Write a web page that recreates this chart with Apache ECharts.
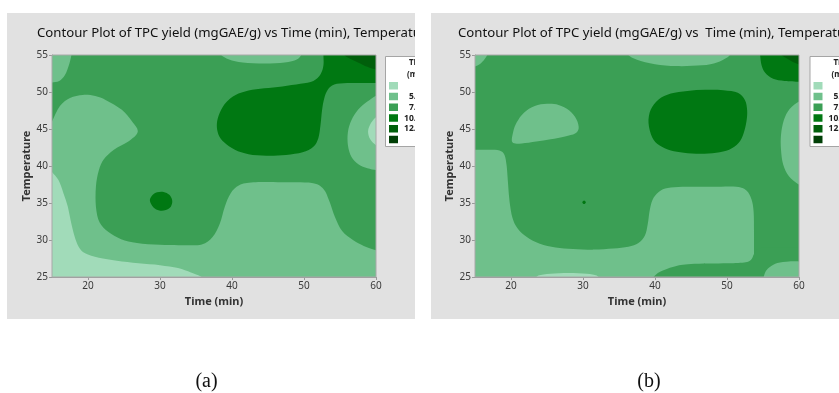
<!DOCTYPE html>
<html>
<head>
<meta charset="utf-8">
<script src="https://cdn.jsdelivr.net/npm/echarts@6/dist/echarts.min.js"></script>
<style>
  html, body { margin: 0; padding: 0; background: #ffffff; }
  #chart { width: 839px; height: 393px; }
</style>
</head>
<body>
<div id="chart"></div>
<script>
// ---- axes ----
const timeTicks = [20, 30, 40, 50, 60];
const tempTicks = [25, 30, 35, 40, 45, 50, 55];

// ---- TPC yield bands (mgGAE/g) ----
const bandColors = ['#a1dbb9', '#6fc08b', '#3b9f55', '#007812', '#005f0b', '#003f06'];
const bandLower = ['<', '5.0', '7.5', '10.0', '12.5', '>'];
const bandUpper = ['5.0', '– 7.5', '– 10.0', '– 12.5', '– 15.0', '15.0'];

const panelTitles = [
  'Contour Plot of TPC yield (mgGAE/g) vs Time (min), Temperature',
  'Contour Plot of TPC yield (mgGAE/g) vs  Time (min), Temperature'
];
const panelCaptions = ['(a)', '(b)'];

// ---- contour boundaries, panel (a): [time, temperature] ----
const aFrame = [[15, 25], [60, 25], [60, 55], [15, 55]];
const aLowBand = [[14.5,45.0],[15,46],[16.1,48.1],[17.5,49.2],[19.3,49.6],[21,49.45],[22.5,48.9],[24.7,47.6],[26.2,45.9],[26.9,44.6],[25.6,43.3],[23.6,42.2],[22.2,40.9],[21.5,39.4],[21.1,37.2],[21.1,34.5],[21.6,32.4],[22.8,31.1],[24.6,30.1],[26.8,29.6],[30,29.35],[33.2,29.3],[35.8,29.4],[37.3,30.4],[38.3,32.2],[39,34.5],[39.8,36.3],[41,37.4],[43,37.8],[47,37.8],[51.1,37.7],[52.7,36.9],[53.5,35.3],[54.3,33.1],[55.3,31.2],[56.8,30.0],[58.3,29.2],[60,28.6],[60.6,28.4]];
const aLowBandEdge = [[60.6,24],[14.5,24]];
const aCornerLow = [[14.5,39.8],[15,39.2],[15.9,38.1],[16.6,36.3],[17.2,34.5],[17.6,32.6],[18.1,30.6],[18.7,29.1],[19.6,28.2],[21.5,27.6],[24,27.2],[27,26.85],[30,26.6],[32.5,26.2],[34.3,25.6],[35.6,25.1],[36.3,24.6],[36.6,24.2]];
const aCornerLowEdge = [[14.5,24.2]];
const aTopLeft = [[14.5,51.2],[15,51.3],[16,51.5],[16.8,52.3],[17.4,53.8],[17.7,55],[17.75,55.5]];
const aTopLeftEdge = [[14.5,55.5]];
const aTopMid = [[38.3,55.6],[38.5,55],[39.6,54.4],[41.5,54.0],[44.5,53.85],[47.3,54.0],[49,54.4],[49.6,55],[49.75,55.6]];
const aRightMid = [[60.6,49.6],[60,49.5],[58.8,48.7],[57.5,47.6],[56.6,46.2],[56.1,44.6],[56.1,42.8],[56.6,41.2],[57.6,40.2],[58.8,39.7],[60,39.45],[60.6,39.4]];
const aRightCore = [[60.6,46.8],[60,46.6],[59.3,45.8],[58.9,44.7],[59.2,43.6],[60,42.8],[60.6,42.6]];
const aPeak = [[52.7,55.6],[52.7,55],[52.7,53.6],[52.3,52.4],[51.3,51.5],[49.5,51.1],[47,50.75],[44.5,50.5],[42.3,50.2],[40.5,49.6],[39.2,48.6],[38.3,47.2],[37.9,45.7],[38.1,44.3],[38.9,43.2],[40.4,42.2],[42.3,41.6],[44.8,41.4],[47.5,41.5],[49.8,41.85],[51.3,42.6],[52,43.8],[52.3,45.6],[52.5,47.5],[52.8,49.1],[53.3,50.3],[54.2,51.0],[56,51.2],[58.5,51.2],[60,51.2],[60.6,51.2]];
const aPeakEdge = [[60.6,55.6]];
const aPeakCorner = [[55.5,55.6],[55.6,55],[56.4,54.5],[57.5,54.0],[58.8,53.4],[60,53.0],[60.6,52.8]];
const aPeakCornerEdge = [[60.6,55.6]];
const aSpot = [[28.6,35.3],[28.9,36.0],[29.6,36.45],[30.5,36.5],[31.3,36.1],[31.7,35.3],[31.5,34.5],[30.8,34.05],[29.9,34.0],[29.1,34.4]];

// ---- contour boundaries, panel (b) ----
const bFrame = [[15, 25], [60, 25], [60, 55], [15, 55]];
const bLeftBand = [[14.5,42.2],[15,42.2],[17,42.2],[18.4,42.1],[19.1,41.5],[19.4,40.0],[19.6,37.5],[19.8,35.2],[20.2,33.0],[20.9,31.6],[22.2,30.4],[24.0,29.5],[26.2,29.0],[28.6,28.8],[31.5,28.7],[34.2,28.85],[36.3,29.1],[37.7,29.6],[38.6,30.6],[39.0,32.2],[39.3,34.2],[39.8,35.7],[40.8,36.7],[42.2,37.1],[44.5,37.2],[48,37.2],[51.3,37.2],[52.7,36.7],[53.4,35.5],[53.7,33.8],[53.75,31],[53.75,28.5],[53.75,26],[53.75,24.4]];
const bLeftBandEdge = [[14.5,24.4]];
const bSliver = [[23.3,24.6],[23.8,25.2],[25.5,25.45],[28,25.55],[30.5,25.45],[31.9,25.2],[32.4,24.6]];
const bFloor = [[39.4,24.5],[39.8,25],[40.7,25.7],[42.6,26.4],[45,26.75],[50,26.85],[52.6,27.0],[53.4,27.4],[53.75,28.1],[54.3,28.8],[55,29]];
const bFloorEdge = [[60.6,29],[60.6,24.5]];
const bFloorCorner = [[55.0,24.5],[55.1,25],[55.4,25.8],[56,26.4],[57,26.9],[58.6,27.1],[60,27.1],[60.6,27.1]];
const bFloorCornerEdge = [[60.6,24.5]];
const bTopLeft = [[14.5,53.3],[15,53.45],[15.7,53.8],[16.3,54.4],[16.7,55],[16.85,55.6]];
const bTopLeftEdge = [[14.5,55.6]];
const bDome = [[20.2,43.2],[20.3,44.6],[20.8,45.9],[21.8,47.2],[23.3,48.1],[25,48.4],[26.6,48.25],[28.1,47.5],[29.1,46.3],[29.4,45.1],[28.9,44.4],[27.5,44.0],[25.5,43.6],[23.5,43.3],[21.5,43.05]];
const bTopMid = [[36,55.6],[36.3,55],[37.5,54.35],[40,53.75],[43,53.5],[46.5,53.6],[48.6,54.0],[49.9,54.6],[50.4,55],[50.6,55.6]];
const bRightMid = [[60.6,48.9],[60,48.7],[58.7,47.7],[57.9,46.2],[57.5,44.2],[57.5,42.2],[57.8,40.2],[58.6,38.6],[59.8,37.6],[60.6,37.3]];
const bPeak = [[39.1,45.8],[39.4,47.6],[40.5,49.0],[42.2,49.8],[44.5,50.15],[47,50.3],[49.5,50.25],[51.5,49.9],[52.5,48.9],[52.8,47.5],[52.7,46],[52.3,44.4],[51.6,43.1],[50.3,42.2],[48.5,41.8],[46.3,41.65],[44,41.8],[42.2,42.1],[40.6,42.8],[39.6,43.9]];
const bCornerHigh = [[54.6,55.6],[54.6,55],[54.8,53.6],[55.3,52.6],[56.4,51.8],[58,51.5],[60,51.4],[60.6,51.4]];
const bCornerHighEdge = [[60.6,55.6]];
const bCornerTop = [[57.5,55.6],[57.6,55],[58.4,54.5],[59.3,54.0],[60,53.75],[60.6,53.6]];
const bCornerTopEdge = [[60.6,55.6]];
const bSpot = [[29.9,35.1],[30.15,35.35],[30.4,35.1],[30.15,34.85]];

// painting order: [band index, smooth boundary, straight closing edge (null = closed loop)]
const panelALayers = [
  [2, [], aFrame],
  [1, aLowBand, aLowBandEdge],
  [0, aCornerLow, aCornerLowEdge],
  [1, aTopLeft, aTopLeftEdge],
  [1, aTopMid, []],
  [1, aRightMid, []],
  [0, aRightCore, []],
  [3, aPeak, aPeakEdge],
  [4, aPeakCorner, aPeakCornerEdge],
  [3, aSpot, null]
];
const panelBLayers = [
  [2, [], bFrame],
  [1, bLeftBand, bLeftBandEdge],
  [0, bSliver, []],
  [2, bFloor, bFloorEdge],
  [1, bFloorCorner, bFloorCornerEdge],
  [1, bTopLeft, bTopLeftEdge],
  [1, bDome, null],
  [1, bTopMid, []],
  [1, bRightMid, []],
  [3, bPeak, null],
  [3, bCornerHigh, bCornerHighEdge],
  [4, bCornerTop, bCornerTopEdge],
  [3, bSpot, null]
];

// ---- page layout (pixels) ----
const SANS = '"Noto Sans", "Open Sans", sans-serif';
const plotLeft = [52, 475];
const panelBoxLeft = [7, 431];
const titleLeft = [37, 458];
const legendLeft = [385, 809.5];
const captionCenter = [206.5, 649];

// Catmull-Rom spline through pixel points -> SVG path data
function splineSegments(p, closed) {
  const n = p.length;
  let d = '';
  const segs = closed ? n : n - 1;
  const at = (i) => closed ? p[(i + n) % n] : p[Math.max(0, Math.min(n - 1, i))];
  for (let i = 0; i < segs; i++) {
    const p0 = at(i - 1), p1 = at(i), p2 = at(i + 1), p3 = at(i + 2);
    const c1 = [p1[0] + (p2[0] - p0[0]) / 6, p1[1] + (p2[1] - p0[1]) / 6];
    const c2 = [p2[0] - (p3[0] - p1[0]) / 6, p2[1] - (p3[1] - p1[1]) / 6];
    d += ' C' + c1[0].toFixed(2) + ',' + c1[1].toFixed(2) + ' ' + c2[0].toFixed(2) + ',' + c2[1].toFixed(2) + ' ' + p2[0].toFixed(2) + ',' + p2[1].toFixed(2);
  }
  return d;
}

function bandShape(layer, api) {
  const level = layer[0];
  const curve = layer[1].map((pt) => api.coord(pt));
  const edge = layer[2];
  let d;
  if (edge === null) {
    d = 'M' + curve[0][0] + ',' + curve[0][1] + splineSegments(curve, true) + ' Z';
  } else {
    const edgePx = edge.map((pt) => api.coord(pt));
    if (curve.length) {
      d = 'M' + curve[0][0] + ',' + curve[0][1] + splineSegments(curve, false);
      edgePx.forEach((q) => { d += ' L' + q[0] + ',' + q[1]; });
    } else {
      d = 'M' + edgePx[0][0] + ',' + edgePx[0][1];
      edgePx.slice(1).forEach((q) => { d += ' L' + q[0] + ',' + q[1]; });
    }
    d += ' Z';
  }
  return {
    type: 'path',
    shape: { pathData: d },
    style: { fill: bandColors[level], stroke: null }
  };
}

const chart = echarts.init(document.getElementById('chart'), null, { renderer: 'canvas' });

function axisPair(i) {
  const common = {
    gridIndex: i,
    type: 'value',
    axisLine: { show: true, onZero: false, lineStyle: { color: '#9a9a9a', width: 1 } },
    splitLine: { show: false },
    nameTextStyle: { fontFamily: SANS, fontWeight: 'bold', fontSize: 11, color: '#333' }
  };
  return {
    x: Object.assign({}, common, {
      min: 15, max: 60,
      name: 'Time (min)', nameLocation: 'middle', nameGap: 17,
      axisTick: { show: true, length: 3, inside: false, customValues: timeTicks, lineStyle: { color: '#9a9a9a' } },
      axisLabel: { customValues: timeTicks, fontFamily: SANS, fontSize: 10, color: '#3a3a3a', margin: 4 }
    }),
    y: Object.assign({}, common, {
      min: tempTicks[0], max: tempTicks[tempTicks.length - 1], interval: 5,
      name: 'Temperature', nameLocation: 'middle', nameGap: 20, nameRotate: 90,
      axisTick: { show: true, length: 3, lineStyle: { color: '#9a9a9a' } },
      axisLabel: { fontFamily: SANS, fontSize: 10, color: '#3a3a3a', margin: 4, showMinLabel: true, showMaxLabel: true }
    })
  };
}
const axesA = axisPair(0), axesB = axisPair(1);

const graphics = [];
[0, 1].forEach((i) => {
  const zBase = i === 0 ? -20 : -9;
  // panel background
  graphics.push({ type: 'rect', z: zBase, silent: true,
    shape: { x: panelBoxLeft[i], y: 13, width: 420, height: 306 },
    style: { fill: '#e1e1e1', stroke: null } });
  // title
  graphics.push({ type: 'text', z: zBase + 1, silent: true, x: titleLeft[i], y: 33,
    style: { text: panelTitles[i], fontFamily: SANS, fontSize: 13.2, fill: '#111', align: 'left', verticalAlign: 'middle' } });
  // legend box
  const lx = legendLeft[i];
  graphics.push({ type: 'rect', z: zBase + 1, silent: true,
    shape: { x: lx + 0.5, y: 56.5, width: 90, height: 90 },
    style: { fill: '#ffffff', stroke: '#a5a5a5', lineWidth: 1 } });
  graphics.push({ type: 'text', z: zBase + 2, silent: true, x: lx + 24, y: 63,
    style: { text: 'TPC yield', fontFamily: SANS, fontSize: 8, fontWeight: 'bold', fill: '#222', align: 'left', verticalAlign: 'middle' } });
  graphics.push({ type: 'text', z: zBase + 2, silent: true, x: lx + 22, y: 75,
    style: { text: '(mgGAE/g)', fontFamily: SANS, fontSize: 8, fontWeight: 'bold', fill: '#222', align: 'left', verticalAlign: 'middle' } });
  bandColors.forEach((c, k) => {
    const top = 82 + k * 10.75;
    graphics.push({ type: 'rect', z: zBase + 2, silent: true,
      shape: { x: lx + 4, y: top, width: 9, height: 7.5 }, style: { fill: c, stroke: null } });
    graphics.push({ type: 'text', z: zBase + 2, silent: true, x: lx + 36, y: top + 4,
      style: { text: bandLower[k], fontFamily: SANS, fontSize: 8.5, fontWeight: 'bold', fill: '#222', align: 'right', verticalAlign: 'middle' } });
    graphics.push({ type: 'text', z: zBase + 2, silent: true, x: lx + 38, y: top + 4,
      style: { text: bandUpper[k], fontFamily: SANS, fontSize: 8.5, fontWeight: 'bold', fill: '#222', align: 'left', verticalAlign: 'middle' } });
  });
  // caption under the panel
  graphics.push({ type: 'text', z: 0, silent: true, x: captionCenter[i], y: 382,
    style: { text: panelCaptions[i], fontFamily: '"Liberation Serif", "DejaVu Serif", serif', fontSize: 20, fill: '#111', align: 'center', verticalAlign: 'middle' } });
});
// white gutter between the two panels
graphics.push({ type: 'rect', z: -10, silent: true,
  shape: { x: 415, y: 0, width: 16, height: 330 }, style: { fill: '#ffffff', stroke: null } });

function bandSeries(layers, i) {
  return {
    type: 'custom',
    xAxisIndex: i, yAxisIndex: i,
    clip: true, silent: true, z: 1,
    data: layers.map((l, k) => [37.5, 40, k]),
    encode: { x: 0, y: 1 },
    renderItem: (params, api) => bandShape(layers[params.dataIndex], api)
  };
}

chart.setOption({
  animation: false,
  backgroundColor: '#ffffff',
  grid: [
    { left: plotLeft[0], top: 55, width: 324, height: 222, show: true, borderColor: '#a8a8a8', borderWidth: 1, backgroundColor: 'transparent', outerBoundsMode: 'none', z: 3 },
    { left: plotLeft[1], top: 55, width: 324, height: 222, show: true, borderColor: '#a8a8a8', borderWidth: 1, backgroundColor: 'transparent', outerBoundsMode: 'none', z: 3 }
  ],
  xAxis: [axesA.x, axesB.x],
  yAxis: [axesA.y, axesB.y],
  graphic: { elements: graphics },
  series: [bandSeries(panelALayers, 0), bandSeries(panelBLayers, 1)]
});
</script>
</body>
</html>
